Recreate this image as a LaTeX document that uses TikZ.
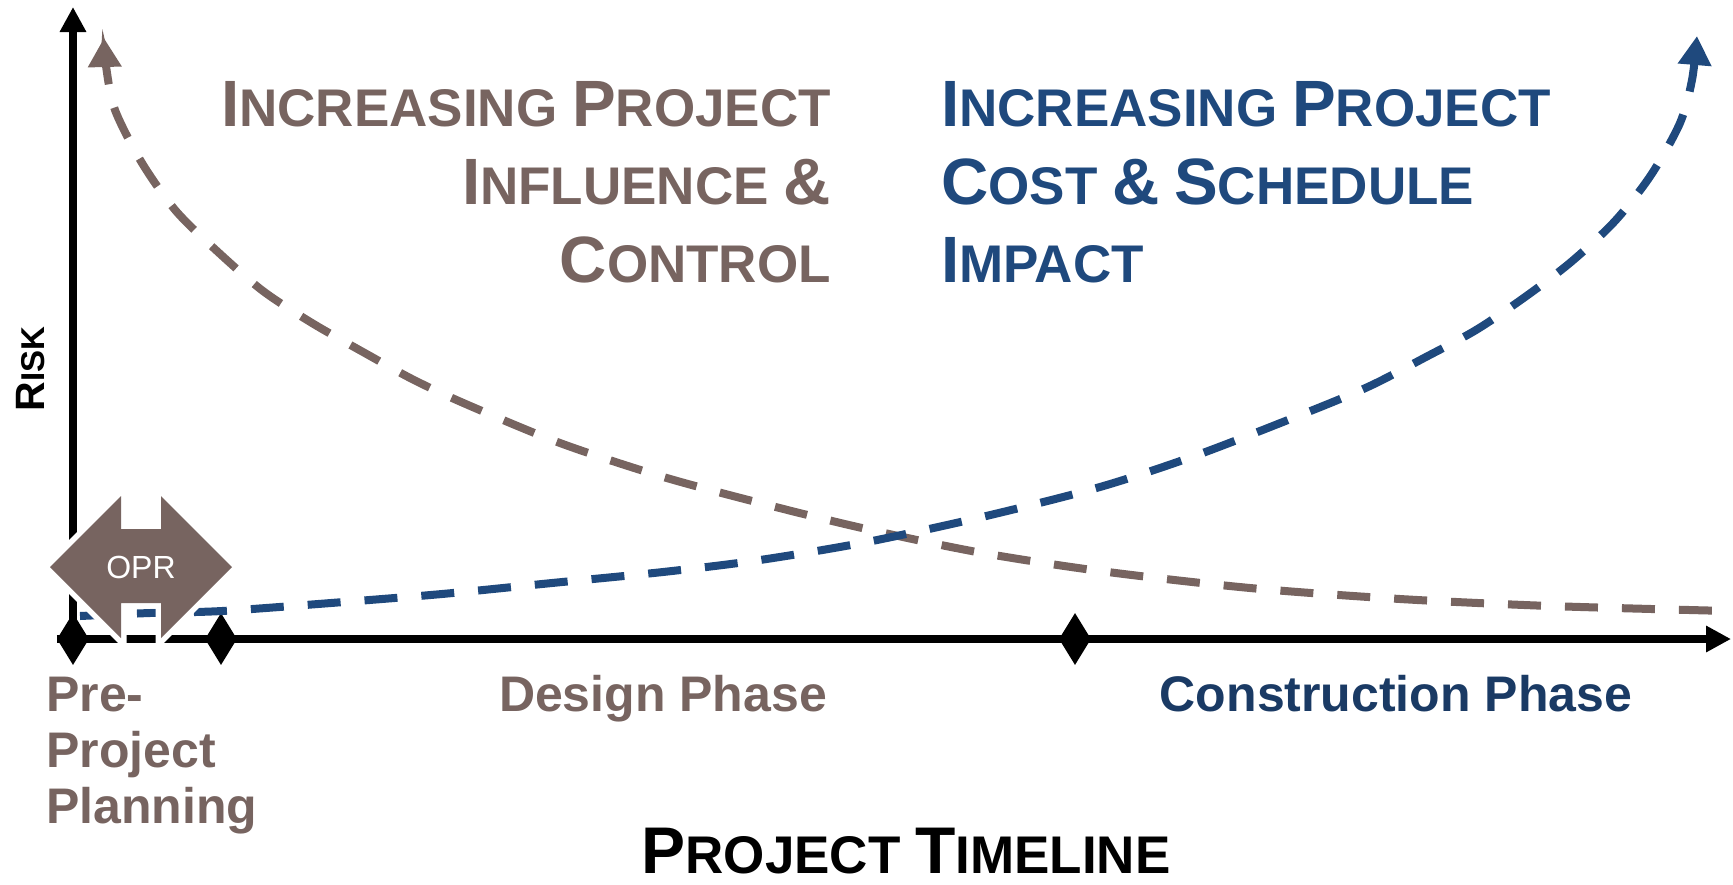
\documentclass[tikz,border=0pt]{standalone}
\usepackage{fontspec}
\setmainfont{Liberation Sans}
\usetikzlibrary{arrows.meta,shapes.geometric}
\definecolor{riskbrown}{HTML}{776460}
\definecolor{riskblue}{HTML}{1F497D}
\definecolor{phaseblue}{HTML}{1A3A64}
\newcommand*{\FakeSC}[4]{% #1 = big size, #2 = small size, #3 = first letter, #4 = rest
  {\fontsize{#1}{#1}\selectfont #3}{\fontsize{#2}{#2}\selectfont #4}%
}
\newcommand*{\TitleSC}[2]{\FakeSC{65.5}{53}{#1}{#2}}
\newcommand*{\TitleAmp}{{\fontsize{65.5}{65.5}\selectfont\&}}

\begin{document}
\begin{tikzpicture}[x=1pt,y=-1pt,
    title/.style={inner sep=0pt,font=\fontsize{53}{53}\selectfont\bfseries},
    phase/.style={inner sep=0pt,font=\fontsize{50}{50}\selectfont\bfseries},
    axis/.style={line width=8pt,-{Triangle[width=25pt,length=25pt]}},
    curve/.style={line width=8pt,dash pattern=on 33pt off 24pt},
    milestone/.style={diamond,fill=black,inner sep=0pt,aspect=0.6,minimum width=32pt,minimum height=52pt}]
        \useasboundingbox (0,0) rectangle (1733,884);
        % axes and milestones
        \begin{scope}
            \foreach \x [count=\i] in {73,221,1075}
                \node[milestone] (ms-\i) at (\x,639) {};
            \coordinate (xend) at (1731,639);
            \coordinate (yend) at (73,7);
            \draw[axis] (ms-1.west) -- (xend);
            \draw[axis] (ms-1.center) -- (yend);
        \end{scope}
        % curves
        \draw[curve,riskbrown,{Triangle[width=32pt,length=29pt]}-] plot[smooth] coordinates {
            (104,38) (106,66) (115,110) (142,163) (176,211) (218,252) (263,291)
            (312,323) (363,352) (414,380) (468,405) (560,443) (660,476) (760,503)
            (862,528) (977,552) (1100,571) (1250,588) (1400,599) (1550,606) (1728,611)};
        \draw[curve,riskblue,-{Triangle[width=32pt,length=29pt]}] plot[smooth] coordinates {
            (80,616) (150,613) (222,611) (331,603) (442,594) (552,583) (663,572)
            (760,560) (867,542) (982,517) (1100,487) (1200,454) (1318,408) (1372,385)
            (1424,358) (1476,330) (1525,297) (1571,262) (1615,221) (1651,175)
            (1680,123) (1692,80) (1697,36)};
        % OPR marker
        \fill[riskbrown,preaction={draw=white,line width=11pt}]
            (50,567) -- (121,496) -- (121,529) -- (161,529) -- (161,496) -- (232,567)
            -- (161,638) -- (161,603) -- (121,603) -- (121,638) -- cycle;
        \node[text=white,font=\fontsize{32}{32}\selectfont,inner sep=0pt,anchor=base] (opr) at (141,578) {OPR};
        % titles
        \foreach \txt [count=\i] in {{\TitleSC{I}{NCREASING} \TitleSC{P}{ROJECT}},{\TitleSC{I}{NFLUENCE} \TitleAmp},{\TitleSC{C}{ONTROL}}}
            \node[title,riskbrown,anchor=base east] (influence-\i) at (831,48+78*\i) {\txt};
        \foreach \txt [count=\i] in {{\TitleSC{I}{NCREASING} \TitleSC{P}{ROJECT}},{\TitleSC{C}{OST} \TitleAmp{} \TitleSC{S}{CHEDULE}},{\TitleSC{I}{MPACT}}}
            \node[title,riskblue,anchor=base west] (impact-\i) at (941,48+78*\i) {\txt};
        % phases
        \foreach \txt [count=\i] in {Pre-,Project,Planning}
            \node[phase,riskbrown,anchor=base west] (pre-\i) at (46,655+56*\i) {\txt};
        \node[phase,riskbrown,anchor=base] (design) at (663,711) {Design Phase};
        \node[phase,phaseblue,anchor=base] (construction) at (1396,711) {Construction Phase};
        % axis labels
        \node[inner sep=0pt,anchor=base,font=\fontsize{53}{53}\selectfont\bfseries] (timeline) at (906,873)
            {\FakeSC{66}{53}{P}{ROJECT} \FakeSC{66}{53}{T}{IMELINE}};
        \node[inner sep=0pt,anchor=base,rotate=90,font=\fontsize{33}{33}\selectfont\bfseries] (risk) at (44,369)
            {\FakeSC{41}{33}{R}{ISK}};
    \end{tikzpicture}
\end{document}
